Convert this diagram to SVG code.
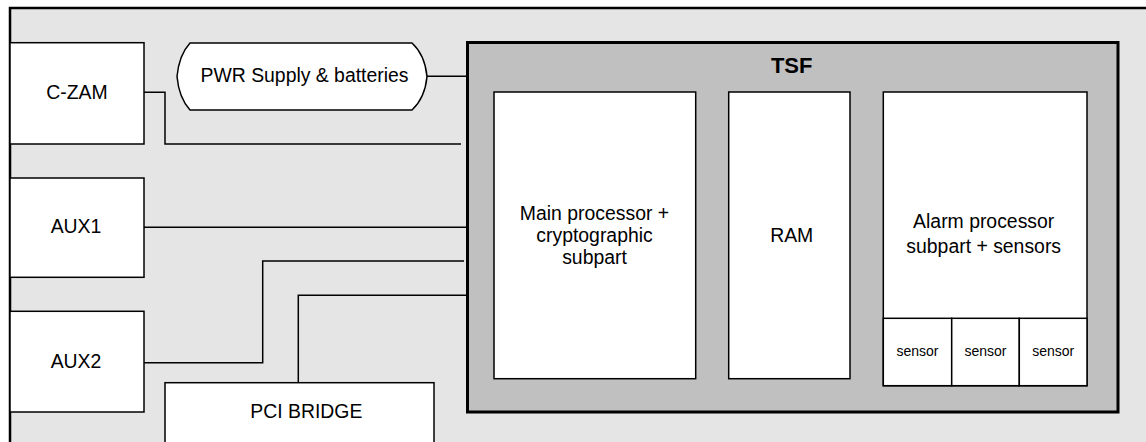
<svg xmlns="http://www.w3.org/2000/svg" width="1146" height="442" viewBox="0 0 1146 442">
<style>
.box{fill:#ffffff;stroke:#000;stroke-width:1.5}
.t{font-family:"Liberation Sans",Arial,sans-serif;font-size:19.4px;fill:#000;text-anchor:middle}
.s{font-family:"Liberation Sans",Arial,sans-serif;font-size:14px;fill:#000;text-anchor:middle}
.c{fill:none;stroke:#000;stroke-width:1.5}
</style>
<rect x="0" y="0" width="1146" height="442" fill="#ffffff"/>
<g id="frame">
<rect x="10" y="8" width="1150" height="450" fill="#e5e5e5" stroke="#000" stroke-width="2.5"/>
</g>
<g id="connectors">
<polyline class="c" points="427,76.3 467,76.3"/>
<polyline class="c" points="144,92.3 165,92.3 165,144 461,144"/>
<polyline class="c" points="144,227.3 467,227.3"/>
<polyline class="c" points="144,362.7 262.7,362.7 262.7,261 464,261"/>
<polyline class="c" points="298.3,382.7 298.3,295.3 467,295.3"/>
<polyline class="c" points="695.7,235.7 728.7,235.7"/>
<polyline class="c" points="850,235.7 883,235.7"/>
</g>
<g id="czam">
<rect class="box" x="10" y="42.7" width="134" height="101.3"/>
<text class="t" x="77" y="99">C-ZAM</text>
</g>
<g id="pwr">
<path class="box" d="M190,43 H412 Q425,55 427,76.5 Q425,98 412,110 H190 Q179,98 177,76.5 Q179,55 190,43 Z"/>
<text class="t" x="304.5" y="81.7">PWR Supply &amp; batteries</text>
</g>
<g id="aux1">
<rect class="box" x="10" y="178" width="134" height="99.3"/>
<text class="t" x="76" y="233.3">AUX1</text>
</g>
<g id="aux2">
<rect class="box" x="10" y="311.3" width="134" height="100.7"/>
<text class="t" x="76" y="368.3">AUX2</text>
</g>
<g id="pci">
<rect class="box" x="165" y="382.7" width="269" height="80"/>
<text class="t" x="306.3" y="418.3">PCI BRIDGE</text>
</g>
<g id="tsf">
<rect x="467.5" y="42.5" width="650.5" height="369.5" fill="#c0c0c0" stroke="#000" stroke-width="3"/>
<text x="791.7" y="72.7" font-family="'Liberation Sans',Arial,sans-serif" font-size="22" font-weight="bold" text-anchor="middle">TSF</text>
</g>
<g id="main">
<rect class="box" x="494" y="92" width="201.7" height="286.7"/>
<text class="t" x="594.5" y="220">Main processor +</text>
<text class="t" x="594.5" y="241.7">cryptographic</text>
<text class="t" x="594.5" y="264.3">subpart</text>
</g>
<g id="ram">
<rect class="box" x="728.7" y="92" width="121.3" height="286.7"/>
<text class="t" x="791.7" y="241.7">RAM</text>
</g>
<g id="alarm">
<rect class="box" x="883.3" y="92" width="203.7" height="293.7"/>
<text class="t" x="983.7" y="228.3">Alarm processor</text>
<text class="t" x="983.7" y="253">subpart + sensors</text>
</g>
<g id="sensor1">
<rect class="box" x="883.3" y="318.3" width="68.4" height="67.4"/>
<text class="s" x="917.5" y="356">sensor</text>
</g>
<g id="sensor2">
<rect class="box" x="951.7" y="318.3" width="67.6" height="67.4"/>
<text class="s" x="985.5" y="356">sensor</text>
</g>
<g id="sensor3">
<rect class="box" x="1019.3" y="318.3" width="67.7" height="67.4"/>
<text class="s" x="1053.2" y="356">sensor</text>
</g>
</svg>
